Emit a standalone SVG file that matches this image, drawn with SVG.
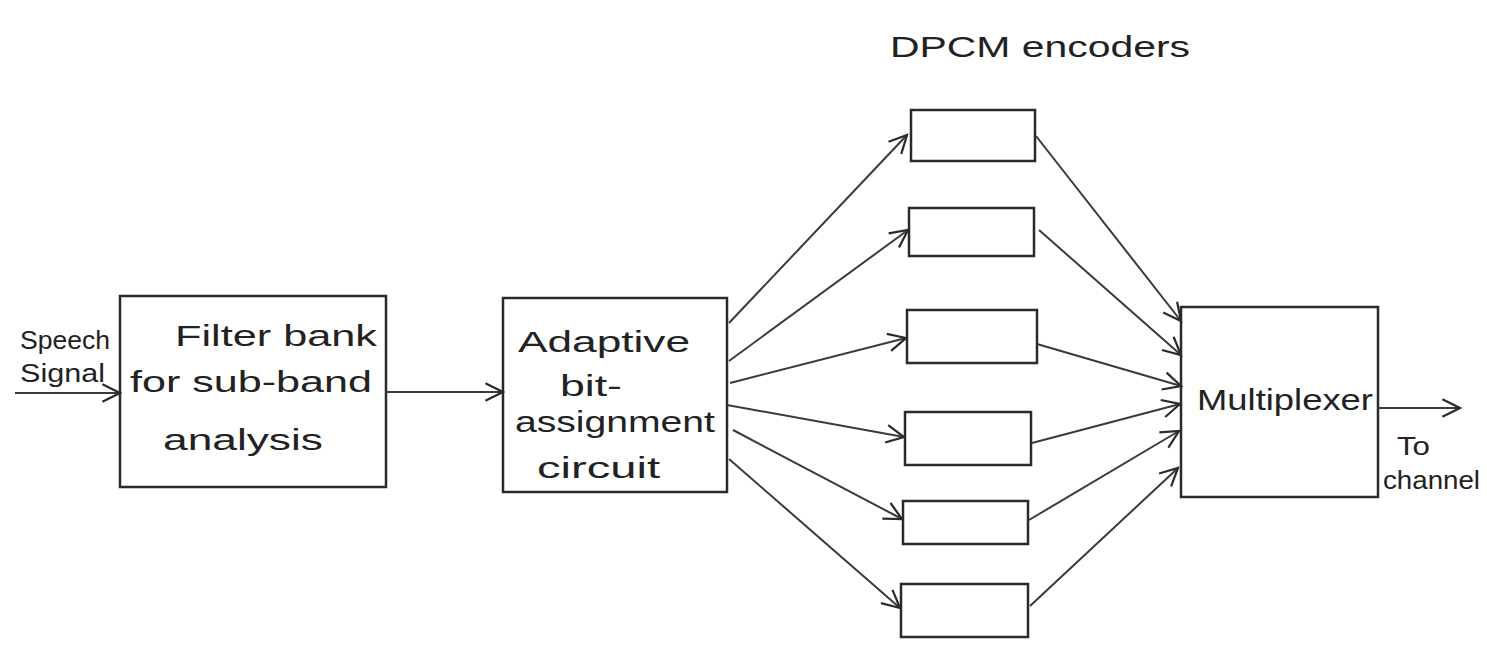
<svg xmlns="http://www.w3.org/2000/svg" width="1487" height="652" viewBox="0 0 1487 652">
<defs>
<marker id="arr" viewBox="0 0 20 20" refX="18" refY="10" markerWidth="22" markerHeight="22" markerUnits="userSpaceOnUse" orient="auto">
<path d="M2,2 L18,10 L2,18" fill="none" stroke="#2a2a2a" stroke-width="2"/>
</marker>
<style>
.box{fill:none;stroke:#2a2a2a;stroke-width:2.5}
.ln{fill:none;stroke:#3a3a3a;stroke-width:2;marker-end:url(#arr)}
.t{font-family:"Liberation Sans","DejaVu Sans",sans-serif;font-size:30px;fill:#222}
.s{font-size:26px}
</style>
</defs>
<rect width="1487" height="652" fill="#ffffff"/>
<text class="t" x="890" y="57" textLength="300" lengthAdjust="spacingAndGlyphs">DPCM encoders</text>
<g id="speech-label">
<text class="t s" x="20" y="349" textLength="90" lengthAdjust="spacingAndGlyphs">Speech</text>
<text class="t s" x="20" y="382" textLength="85" lengthAdjust="spacingAndGlyphs">Signal</text>
</g>
<g id="filter-bank">
<rect class="box" x="120" y="296" width="266" height="191"/>
<text class="t" x="175" y="346" textLength="202" lengthAdjust="spacingAndGlyphs">Filter bank</text>
<text class="t" x="130" y="392" textLength="242" lengthAdjust="spacingAndGlyphs">for sub-band</text>
<text class="t" x="163" y="450" textLength="160" lengthAdjust="spacingAndGlyphs">analysis</text>
</g>
<g id="adaptive">
<rect class="box" x="503" y="298" width="224" height="194"/>
<text class="t" x="518" y="352" textLength="172" lengthAdjust="spacingAndGlyphs">Adaptive</text>
<text class="t" x="560" y="396" textLength="62" lengthAdjust="spacingAndGlyphs">bit-</text>
<text class="t" x="515" y="432" textLength="200" lengthAdjust="spacingAndGlyphs">assignment</text>
<text class="t" x="537" y="478" textLength="123" lengthAdjust="spacingAndGlyphs">circuit</text>
</g>
<g id="enc1"><rect class="box" x="911" y="110" width="124" height="51"/></g>
<g id="enc2"><rect class="box" x="909" y="208" width="125" height="48"/></g>
<g id="enc3"><rect class="box" x="907" y="310" width="130" height="53"/></g>
<g id="enc4"><rect class="box" x="905" y="412" width="126" height="53"/></g>
<g id="enc5"><rect class="box" x="903" y="501" width="125" height="43"/></g>
<g id="enc6"><rect class="box" x="901" y="584" width="127" height="53"/></g>
<g id="multiplexer">
<rect class="box" x="1181" y="307" width="197" height="190"/>
<text class="t" x="1197" y="410" textLength="176" lengthAdjust="spacingAndGlyphs">Multiplexer</text>
</g>
<g id="out-label">
<text class="t s" x="1397" y="455" textLength="33" lengthAdjust="spacingAndGlyphs">To</text>
<text class="t s" x="1383" y="489" textLength="97" lengthAdjust="spacingAndGlyphs">channel</text>
</g>
<g id="connectors">
<line class="ln" x1="15" y1="393" x2="120" y2="393"/>
<line class="ln" x1="386" y1="392" x2="503" y2="392"/>
<line class="ln" x1="729" y1="323" x2="907" y2="135"/>
<line class="ln" x1="729" y1="361" x2="908" y2="230"/>
<line class="ln" x1="730" y1="383" x2="906" y2="338"/>
<line class="ln" x1="727" y1="405" x2="904" y2="437"/>
<line class="ln" x1="733" y1="430" x2="902" y2="519"/>
<line class="ln" x1="729" y1="459" x2="900" y2="608"/>
<line class="ln" x1="1036" y1="136" x2="1181" y2="321"/>
<line class="ln" x1="1039" y1="230" x2="1181" y2="355"/>
<line class="ln" x1="1037" y1="344" x2="1181" y2="386"/>
<line class="ln" x1="1032" y1="443" x2="1180" y2="404"/>
<line class="ln" x1="1029" y1="520" x2="1179" y2="431"/>
<line class="ln" x1="1030" y1="606" x2="1178" y2="468"/>
<line class="ln" x1="1378" y1="408" x2="1460" y2="408"/>
</g>
</svg>
